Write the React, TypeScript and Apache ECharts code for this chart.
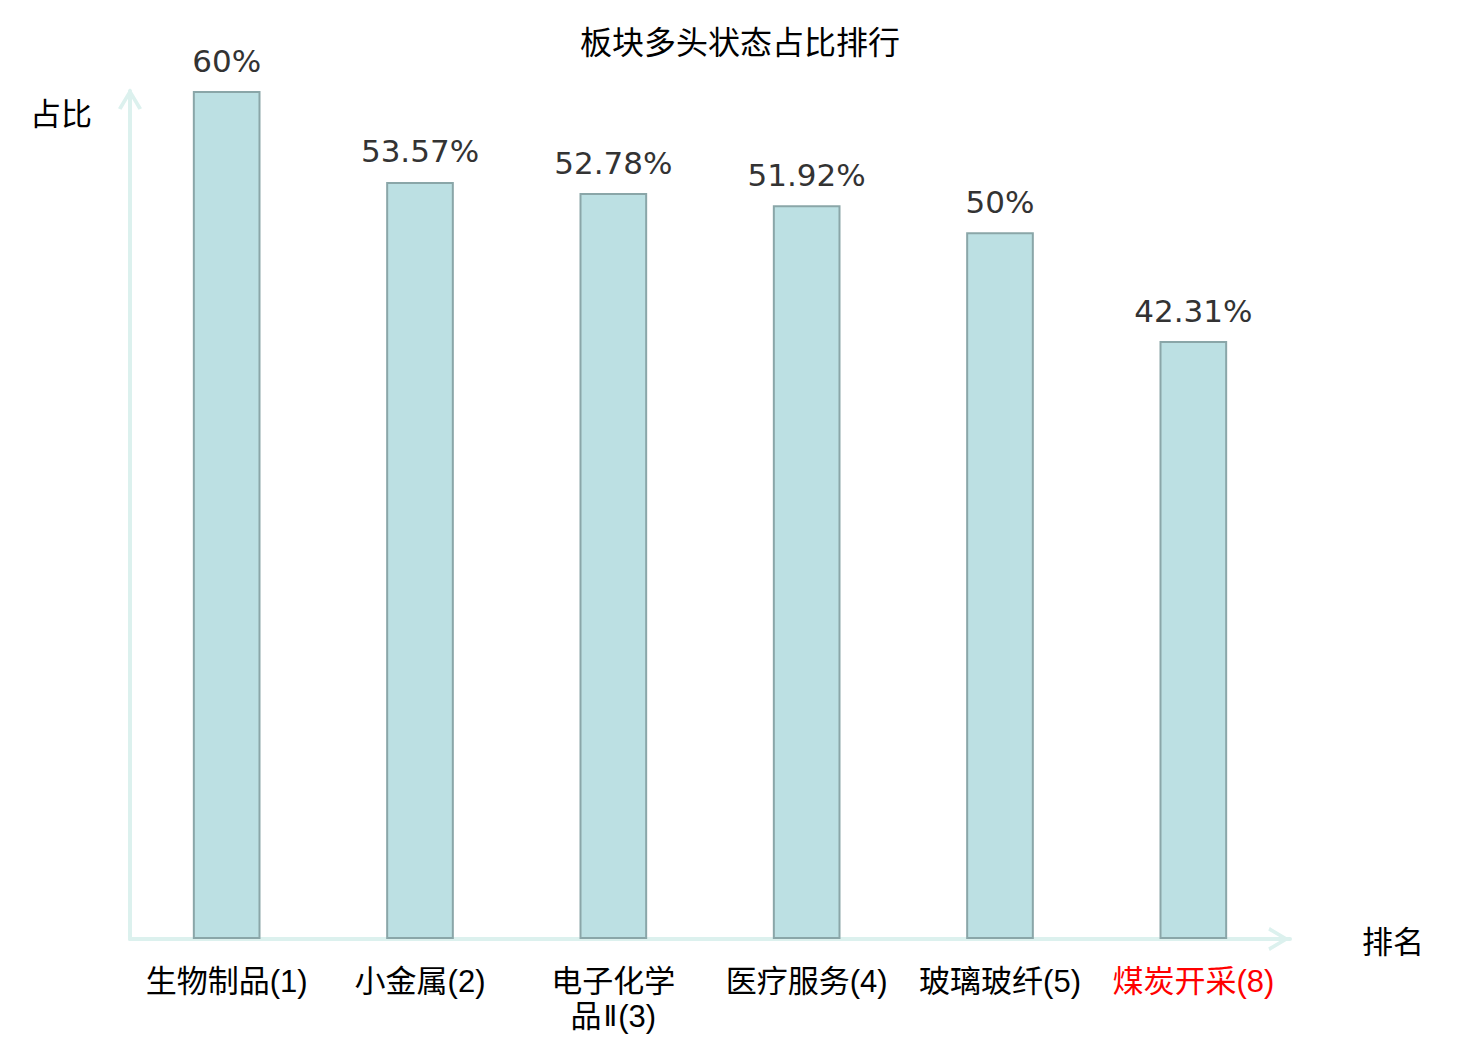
import React, { useEffect, useRef } from "react";
import * as echarts from "echarts";

const categories = ["生物制品(1)", "小金属(2)", "电子化学品Ⅱ(3)", "医疗服务(4)", "玻璃玻纤(5)", "煤炭开采(8)"];
const values = [60, 53.57, 52.78, 51.92, 50, 42.31];
const highlighted = ["煤炭开采(8)"];

const CJK = "'Noto Sans CJK SC', 'DejaVu Sans', sans-serif";
const LABEL_FONT = "'Liberation Sans', 'Noto Sans CJK SC', sans-serif";
const LATIN = "'DejaVu Sans', 'Noto Sans CJK SC', sans-serif";
const AXIS_COLOR = "#dcf1ee";
const chevronUp = "path://M0,20 L12,0 L24,20 L20.5,21.5 L12,7 L3.5,21.5 Z";

function formatCategory(v: string): string {
  const wrapped = v.length > 7 ? v.slice(0, 4) + "\n" + v.slice(4) : v;
  return wrapped.replace(/Ⅱ/g, "{r|Ⅱ}");
}

export default function App() {
  const ref = useRef<HTMLDivElement>(null);
  useEffect(() => {
    const chart = echarts.init(ref.current!, null, { renderer: "svg" });
    chart.setOption({
      animation: false,
      backgroundColor: "#ffffff",
      title: {
        text: "板块多头状态占比排行",
        left: "center",
        top: 19,
        textStyle: { fontFamily: CJK, fontSize: 32, fontWeight: "normal", color: "#000" },
      },
      grid: { left: 130, right: 190, top: 91, bottom: 101 },
      xAxis: {
        type: "category",
        data: categories,
        name: "排名",
        nameLocation: "end",
        nameGap: 72,
        nameTextStyle: { fontFamily: CJK, fontSize: 31, color: "#000", padding: [4, 0, 0, 0] },
        axisLine: {
          show: true,
          lineStyle: { color: AXIS_COLOR, width: 4 },
          symbol: ["none", chevronUp],
          symbolSize: [24, 22],
          symbolOffset: [0, -11],
        },
        axisTick: { show: false },
        axisLabel: {
          interval: 0,
          margin: 25,
          fontFamily: LABEL_FONT,
          fontSize: 31,
          lineHeight: 35,
          color: (v: string) => (highlighted.includes(v) ? "#ff0000" : "#000"),
          formatter: formatCategory,
          rich: {
            r: { fontFamily: LATIN, fontSize: 28, lineHeight: 35, padding: [0, 1, 0, 2] },
          },
        },
      },
      yAxis: {
        type: "value",
        min: 0,
        max: 60,
        name: "占比",
        nameLocation: "end",
        nameGap: -20,
        nameTextStyle: {
          fontFamily: CJK,
          fontSize: 31,
          color: "#000",
          align: "right",
          verticalAlign: "middle",
          padding: [0, 38, 0, 0],
        },
        axisLine: {
          show: true,
          lineStyle: { color: AXIS_COLOR, width: 4 },
          symbol: ["none", chevronUp],
          symbolSize: [24, 22],
          symbolOffset: [0, -8],
        },
        axisTick: { show: false },
        axisLabel: { show: false },
        splitLine: { show: false },
      },
      series: [
        {
          type: "bar",
          data: values,
          barWidth: "35%",
          itemStyle: { color: "#bce0e3", borderColor: "#8aa6a8", borderWidth: 2 },
          label: {
            show: true,
            position: "top",
            distance: 15,
            fontFamily: LATIN,
            fontSize: 31,
            color: "#333",
            formatter: (p: any) => p.value + "%",
          },
        },
      ],
    });
    return () => chart.dispose();
  }, []);
  return <div ref={ref} style={{ position: "fixed", left: 0, top: 0, width: 1480, height: 1040 }} />;
}
